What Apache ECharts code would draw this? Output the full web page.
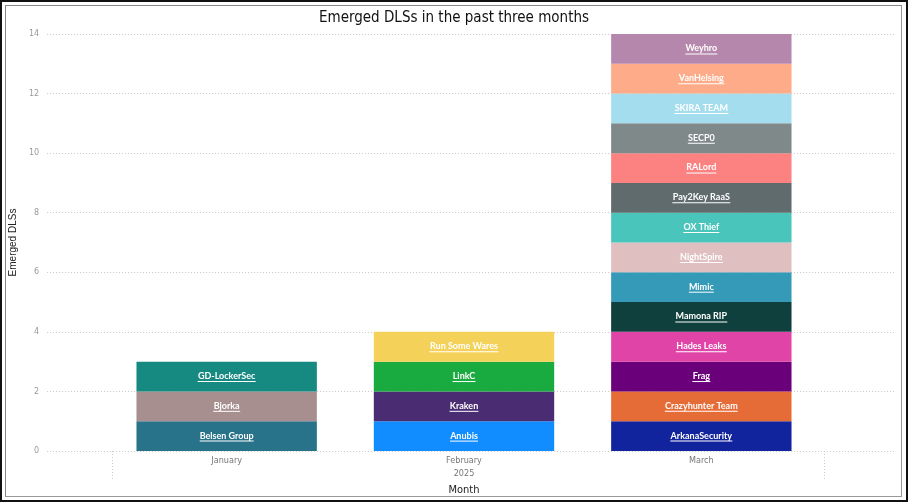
<!DOCTYPE html>
<html><head><meta charset="utf-8">
<script src="https://cdn.jsdelivr.net/npm/echarts@6/dist/echarts.min.js"></script>
<style>
html,body{margin:0;padding:0;background:#fff;}
#frame{position:absolute;left:0;top:0;width:904px;height:498px;border:2px solid #111;}
#inner{position:absolute;left:3px;top:3px;width:895px;height:490px;border:1px solid #888;border-right-color:#999;border-bottom-color:#999;}
#chart{position:absolute;left:0;top:0;width:908px;height:502px;}
</style></head>
<body>
<div id="frame"><div id="inner"></div></div>
<div id="chart"></div>
<script>
const months = ['January', 'February', 'March'];
const yearLabel = '2025';
const janGroups = ['Belsen Group', 'Bjorka', 'GD-LockerSec'];
const janCounts = [1, 1, 1];
const febGroups = ['Anubis', 'Kraken', 'LinkC', 'Run Some Wares'];
const febCounts = [1, 1, 1, 1];
const marGroups = ['ArkanaSecurity', 'Crazyhunter Team', 'Frag', 'Hades Leaks', 'Mamona RIP', 'Mimic', 'NightSpire', 'OX Thief', 'Pay2Key RaaS', 'RALord', 'SECP0', 'SKIRA TEAM', 'VanHelsing', 'Weyhro'];
const marCounts = [1, 1, 1, 1, 1, 1, 1, 1, 1, 1, 1, 1, 1, 1];
const janColors = ['#28738A', '#A78F8F', '#168980'];
const febColors = ['#118DFF', '#4A2C73', '#1AAB40', '#F4D25A'];
const marColors = ['#12239E', '#E66C37', '#6B007B', '#E044A7', '#0F403D', '#3599B8', '#DFBFBF', '#4AC5BB', '#5F6B6D', '#FB8281', '#7F898A', '#A4DDEE', '#FDAB89', '#B687AC'];

const labelFont = 'bold 9px Lato';
const cv = document.createElement('canvas').getContext('2d');
cv.font = labelFont;

const series = [];
function addGroup(groups, counts, colors, mi) {
  groups.forEach((g, i) => {
    const data = months.map((m, j) => j === mi ? counts[i] : null);
    const w = Math.ceil(cv.measureText(g).width);
    series.push({
      name: g, type: 'bar', stack: 'total', xAxisIndex: 1, yAxisIndex: 1,
      barCategoryGap: '24%',
      itemStyle: { color: colors[i] },
      data: data,
      label: {
        show: true, position: 'inside',
        formatter: '{t|' + g + '}\n{u|}',
        rich: {
          t: { fontFamily: 'Lato', fontWeight: 'bold', fontSize: 9, color: '#fff', lineHeight: 10, align: 'center' },
          u: { width: w, height: 1, backgroundColor: '#fff', lineHeight: 1, align: 'center' }
        }
      }
    });
  });
}
addGroup(janGroups, janCounts, janColors, 0);
addGroup(febGroups, febCounts, febColors, 1);
addGroup(marGroups, marCounts, marColors, 2);

const chart = echarts.init(document.getElementById('chart'));
chart.setOption({
  animation: false,
  title: {
    text: 'Emerged DLSs in the past three months', left: 'center', top: 6,
    textStyle: { fontFamily: 'DejaVu Sans Condensed', fontWeight: 'normal', fontSize: 15, color: '#111' }
  },
  grid: [
    { left: 40, right: 13, top: 34, bottom: 51 },
    { left: 108, right: 88, top: 34, bottom: 51 },
    { left: 112, right: 84, top: 34, bottom: 51 }
  ],
  xAxis: [
    { type: 'value', gridIndex: 0, min: 0, max: 1, show: false },
    {
      type: 'category', gridIndex: 1, data: months,
      axisLine: { show: false }, axisTick: { show: false },
      axisLabel: {
        color: '#777', fontFamily: 'DejaVu Sans Condensed', fontSize: 9, margin: 3, lineHeight: 13,
        formatter: v => v === 'February' ? v + '\n' + yearLabel : v
      },
      name: 'Month', nameLocation: 'middle', nameGap: 28,
      nameTextStyle: { color: '#222', fontFamily: 'DejaVu Sans Condensed', fontSize: 11 }
    },
    {
      type: 'value', gridIndex: 2, min: 0, max: 1, interval: 1, position: 'bottom',
      axisLine: { show: false }, axisLabel: { show: false }, splitLine: { show: false },
      axisTick: { show: true, length: 28, lineStyle: { type: [1, 2], color: '#ccc' } }
    }
  ],
  yAxis: [
    {
      type: 'value', gridIndex: 0, min: 0, max: 14, interval: 2,
      axisLine: { show: false }, axisTick: { show: false },
      axisLabel: { color: '#999', fontFamily: 'DejaVu Sans', fontSize: 8, margin: 8 },
      splitLine: { lineStyle: { type: [1, 2], color: '#c8c8c8' } },
      name: 'Emerged DLSs', nameLocation: 'middle', nameGap: 18, nameRotate: 90,
      nameTextStyle: { color: '#222', fontFamily: 'Liberation Sans', fontSize: 10 }
    },
    { type: 'value', gridIndex: 1, min: 0, max: 14, interval: 2, show: false },
    { type: 'value', gridIndex: 2, min: 0, max: 14, interval: 2, show: false }
  ],
  series: series
});
</script>
</body></html>
